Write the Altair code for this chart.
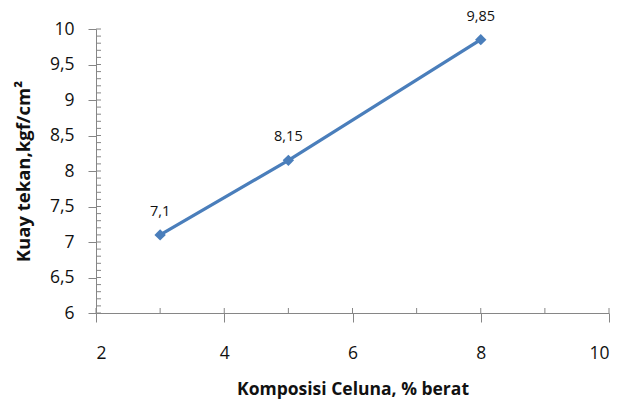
import altair as alt
import numpy as np
import pandas as pd

# Compressive strength vs. celuna content
celuna = [3, 5, 8]
kuat_tekan = [7.1, 8.15, 9.85]
labels = [str(v).replace(".", ",") for v in kuat_tekan]

x_major = [2, 4, 6, 8, 10]
y_major = [6, 6.5, 7, 7.5, 8, 8.5, 9, 9.5, 10]

W, H = 513, 284
AXIS = "#868686"
BLUE = "#4A7EBB"
FONT = "Open Sans"
INK = "#111111"

df = pd.DataFrame({"x": celuna, "y": kuat_tekan, "label": labels})

x_scale = alt.Scale(domain=[2, 10], nice=False, zero=False)
y_scale = alt.Scale(domain=[6, 10], nice=False, zero=False)

x_axis = alt.Axis(
    values=x_major,
    title="Komposisi Celuna, % berat",
    tickSize=9,
    labelPadding=22,
    titlePadding=19,
    titleFontSize=17.5,
)
y_axis = alt.Axis(
    values=y_major,
    title="Kuay tekan,kgf/cm²",
    tickSize=8,
    labelPadding=14,
    titlePadding=16,
    titleFontSize=18.5,
    labelExpr="replace(toString(datum.value), '.', ',')",
)

base = alt.Chart(df)

line = base.mark_line(color=BLUE, strokeWidth=3.3).encode(
    x=alt.X("x:Q", scale=x_scale, axis=x_axis),
    y=alt.Y("y:Q", scale=y_scale, axis=y_axis),
)

points = base.mark_point(
    shape="diamond", filled=True, size=130, color=BLUE, opacity=1
).encode(
    x=alt.X("x:Q", scale=x_scale, axis=x_axis),
    y=alt.Y("y:Q", scale=y_scale, axis=y_axis),
)

text = base.mark_text(dy=-23, fontSize=14.5, font=FONT, color=INK).encode(
    x=alt.X("x:Q", scale=x_scale, axis=x_axis),
    y=alt.Y("y:Q", scale=y_scale, axis=y_axis),
    text="label:N",
)

# inner minor ticks on both axes
y_minor = pd.DataFrame({"v": np.round(np.arange(6, 10.001, 0.1), 1)})
x_minor = pd.DataFrame({"v": list(range(2, 11))})

y_ticks = alt.Chart(y_minor).mark_rule(color=AXIS, strokeWidth=1).encode(
    y=alt.Y("v:Q", scale=y_scale, axis=y_axis), x=alt.value(0), x2=alt.value(5)
)
x_ticks = alt.Chart(x_minor).mark_rule(color=AXIS, strokeWidth=1).encode(
    x=alt.X("v:Q", scale=x_scale, axis=x_axis), y=alt.value(H), y2=alt.value(H - 5)
)

chart = (
    alt.layer(line, y_ticks, x_ticks, points, text)
    .properties(
        width=W,
        height=H,
        autosize="none",
        padding={"left": 96, "top": 29, "right": 10, "bottom": 87},
        background="white",
    )
    .configure_view(stroke=None)
    .configure_axis(
        grid=False,
        domainColor=AXIS,
        tickColor=AXIS,
        labelFont=FONT,
        labelFontSize=17.5,
        labelColor=INK,
        titleFont=FONT,
        titleFontWeight="bold",
        titleColor=INK,
    )
)

chart.save("out.html", embed_options={"renderer": "svg", "actions": False})
